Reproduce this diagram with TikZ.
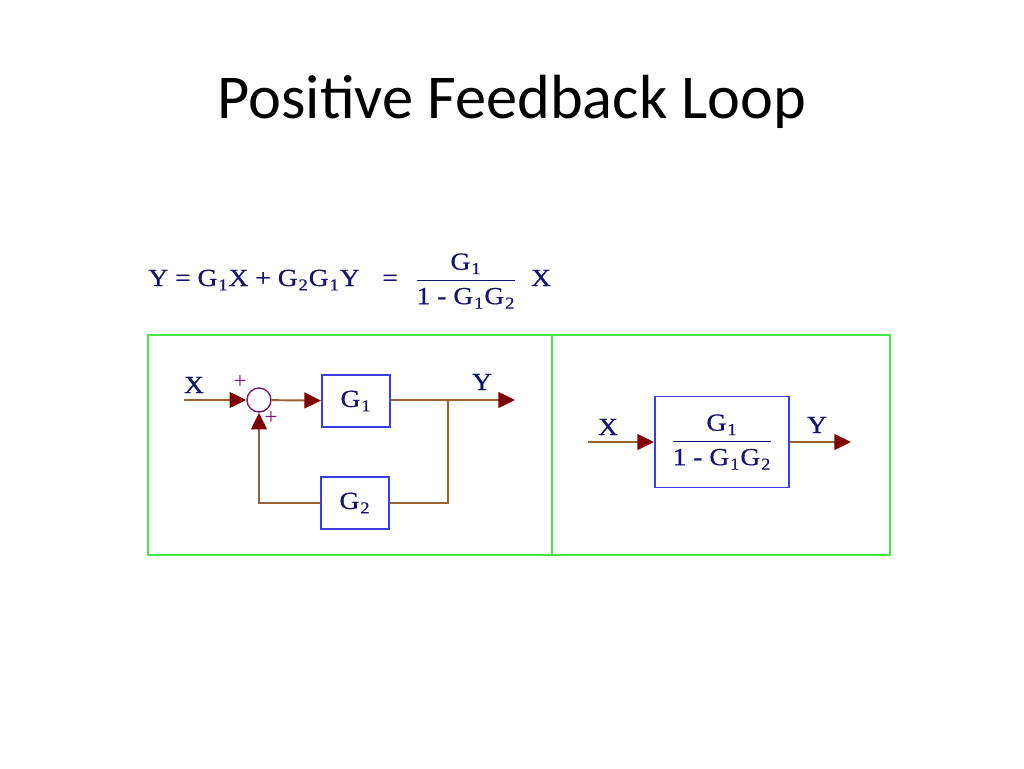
\documentclass[tikz,border=0pt]{standalone}
\usepackage{amsmath}
\usepackage{fontspec}
\setmainfont{Liberation Serif}
\newfontfamily\titlefont{Carlito}
\newfontfamily\diafont[FakeStretch=1.12,FakeBold=0.6]{Liberation Serif}
\usetikzlibrary{arrows.meta}
\definecolor{navy}{RGB}{20,20,110}
\definecolor{framegreen}{RGB}{70,230,70}
\definecolor{boxblue}{RGB}{60,60,230}
\definecolor{wirebrown}{RGB}{150,100,50}
\definecolor{tipred}{RGB}{128,0,0}
\definecolor{sumpurple}{RGB}{130,20,110}
\tikzset{
  block/.style={draw=boxblue,line width=1.1pt,minimum width=1.36cm,minimum height=1.04cm,
    inner sep=0pt,text=navy,font=\diafont\fontsize{14}{16}\selectfont},
  wire/.style={draw=wirebrown,line width=1.1pt},
  sig/.style={wire,-{Triangle[length=9.5pt,width=9pt,color=tipred]}},
  lbl/.style={text=navy,inner sep=0pt,font=\diafont\fontsize{14}{16}\selectfont},
  sgn/.style={text=sumpurple,inner sep=0pt,font=\fontsize{13}{15}\selectfont},
}
\newcommand{\Gs}[1]{G\kern0.5pt\raisebox{-2.5pt}{\fontsize{9.5}{11}\selectfont#1}\kern0.5pt}
\newcommand{\gfrac}{$\genfrac{}{}{0.8pt}{0}{\mbox{\Gs{1}}}{\mbox{1 - \Gs{1}\Gs{2}}}$}
\begin{document}
\begin{tikzpicture}[x=0.02cm,y=-0.02cm]
\useasboundingbox (0,0) rectangle (1024,768);
\node[font=\titlefont\fontsize{35.5}{40}\selectfont,anchor=base] (title) at (512,118) {Positive Feedback Loop};
% equation
\node[lbl,anchor=base west] (eq) at (148,286) {Y = \Gs{1}X + \Gs{2}\Gs{1}Y};
\node[lbl,anchor=base] (eqs) at (390,286) {=};
\node[lbl] (eqf) at (466,281) {\gfrac};
\node[lbl,anchor=base] (eqx) at (541,286) {X};
% frame
\draw[framegreen,line width=1.1pt] (148,335) rectangle (890,555) (552,335) -- (552,555);
% feedback loop
\node[circle,draw=sumpurple,line width=0.8pt,minimum size=0.48cm,inner sep=0pt] (sum) at (259,400) {};
\node[block] (g1) at (356,401) {\Gs{1}};
\node[block] (g2) at (355,503) {\Gs{2}};
\coordinate (xin) at (184,400);
\coordinate (yout) at (515,400);
\coordinate (br) at (448,400);
\draw[sig] (xin) -- (sum);
\draw[sig] (sum) -- (g1);
\draw[sig] (g1.east |- yout) -- (yout);
\draw[wire] (br) |- (g2);
\draw[sig] (g2) -| (sum);
\node[lbl] (xl) at (194,385) {X};
\node[lbl] (yl) at (482,382) {Y};
\node[sgn] (p1) at (240,382) {+};
\node[sgn] (p2) at (271,418) {+};
% closed loop
\node[block,minimum width=2.68cm,minimum height=1.82cm] (gc) at (722,442) {\gfrac};
\coordinate (xin2) at (588,442);
\coordinate (yout2) at (851,442);
\draw[sig] (xin2) -- (gc);
\draw[sig] (gc) -- (yout2);
\node[lbl] (xl2) at (608,427) {X};
\node[lbl] (yl2) at (817,425) {Y};
\end{tikzpicture}
\end{document}
